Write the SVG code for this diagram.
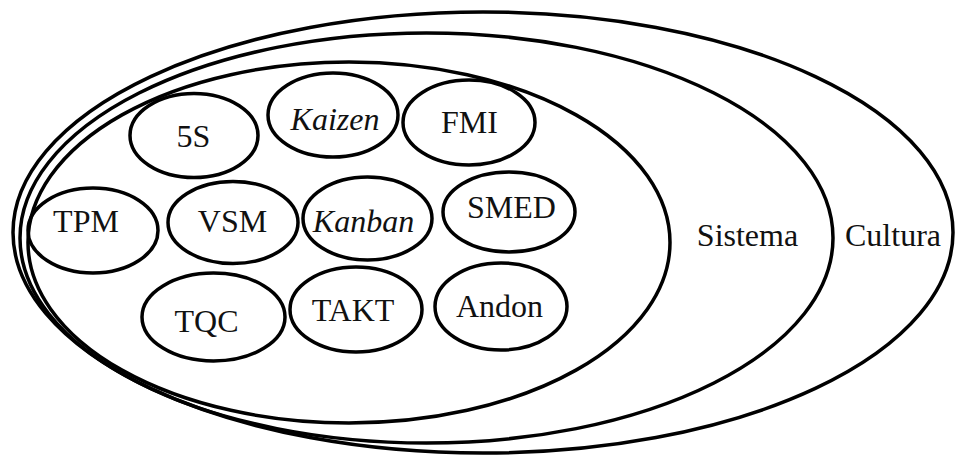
<svg xmlns="http://www.w3.org/2000/svg" width="955" height="457" viewBox="0 0 955 457" font-family="Liberation Serif, DejaVu Serif, serif" font-size="32" text-anchor="middle">
<style>
.big{fill:none;stroke:#000;stroke-width:3.5}
.n{fill:none;stroke:#000;stroke-width:3.5}
.t{fill:#111}
.it{font-style:italic}
</style>
<rect width="955" height="457" fill="#fff"/>
<g id="cultura">
<ellipse class="big" cx="483" cy="232.5" rx="470" ry="220.5"/>
<text class="t" x="893" y="246">Cultura</text>
</g>
<g id="sistema">
<ellipse class="big" cx="426.5" cy="238" rx="406.5" ry="205"/>
<text class="t" x="747.5" y="246">Sistema</text>
</g>
<g id="ferramentas">
<ellipse class="big" cx="349" cy="242.5" rx="321" ry="180.5"/>
</g>
<g id="n-5s"><ellipse class="n" cx="194" cy="135.5" rx="64" ry="42"/><text class="t" x="193.5" y="147">5S</text></g>
<g id="n-kaizen"><ellipse class="n" cx="333" cy="115" rx="65" ry="42"/><text class="t it" x="335" y="130">Kaizen</text></g>
<g id="n-fmi"><ellipse class="n" cx="469" cy="122.5" rx="66" ry="42.5"/><text class="t" x="469.5" y="133">FMI</text></g>
<g id="n-tpm"><ellipse class="n" cx="93" cy="230.5" rx="65" ry="42.5"/><text class="t" x="86" y="232">TPM</text></g>
<g id="n-vsm"><ellipse class="n" cx="233" cy="222.5" rx="65" ry="41"/><text class="t" x="232.5" y="232">VSM</text></g>
<g id="n-kanban"><ellipse class="n" cx="367.5" cy="218.5" rx="64.5" ry="41.5"/><text class="t it" x="363.5" y="232">Kanban</text></g>
<g id="n-smed"><ellipse class="n" cx="509" cy="212" rx="66" ry="40"/><text class="t" x="511.5" y="218">SMED</text></g>
<g id="n-tqc"><ellipse class="n" cx="213.5" cy="317" rx="71.5" ry="44"/><text class="t" x="206.5" y="332">TQC</text></g>
<g id="n-takt"><ellipse class="n" cx="356" cy="309.5" rx="66" ry="42.5"/><text class="t" x="353" y="321">TAKT</text></g>
<g id="n-andon"><ellipse class="n" cx="501" cy="306.5" rx="66" ry="43.5"/><text class="t" x="499.5" y="317">Andon</text></g>
<g id="connectors"></g>
</svg>
